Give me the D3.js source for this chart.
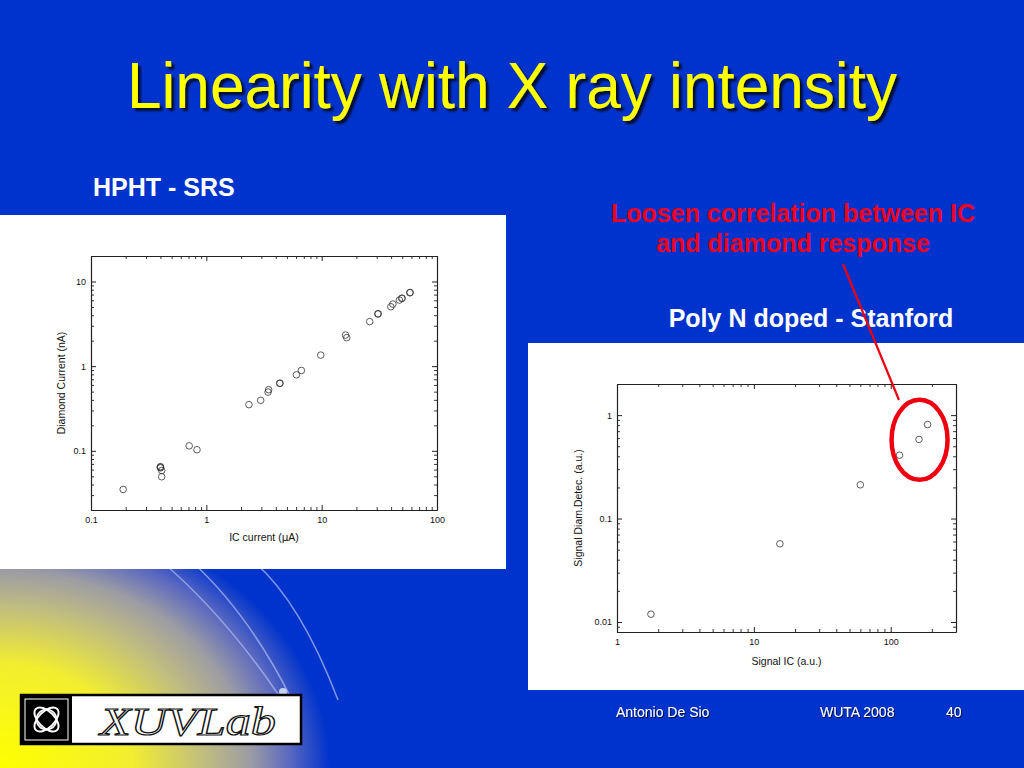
<!DOCTYPE html>
<html>
<head>
<meta charset="utf-8">
<script src="https://cdn.jsdelivr.net/npm/d3@7"></script>
<style>
  html, body { margin: 0; padding: 0; background: #0033cc; overflow: hidden; }
  svg { display: block; }
</style>
</head>
<body>
<script>
// ---------- data ----------
// HPHT - SRS : IC current (uA) vs Diamond current (nA)
const hphtIC = [0.19, 0.40, 0.40, 0.40, 0.41, 0.41, 0.71, 0.83, 2.34, 2.96, 3.43, 3.47, 4.33, 4.35, 6.04, 6.67, 9.82, 16.1, 16.5, 26.1, 30.7, 30.9, 39.8, 41.4, 47.2, 49.5, 49.8, 58.1, 58.5];
const hphtDiamond = [0.035, 0.065, 0.064, 0.063, 0.0586, 0.0494, 0.1145, 0.103, 0.351, 0.395, 0.494, 0.527, 0.625, 0.630, 0.79, 0.889, 1.35, 2.33, 2.17, 3.36, 4.13, 4.17, 5.03, 5.41, 6.03, 6.31, 6.36, 7.36, 7.42];
// Poly N doped - Stanford : Signal IC vs Signal Diam.Detec.
const polyIC = [1.77, 15.5, 60, 116, 161, 186];
const polyDiamond = [0.0119, 0.057, 0.212, 0.41, 0.582, 0.811];
// ticks
const hphtXTicks = [0.1, 1, 10, 100];
const hphtXTickLabels = ["0.1", "1", "10", "100"];
const hphtYTicks = [0.1, 1, 10];
const hphtYTickLabels = ["0.1", "1", "10"];
const polyXTicks = [1, 10, 100];
const polyXTickLabels = ["1", "10", "100"];
const polyYTicks = [0.01, 0.1, 1];
const polyYTickLabels = ["0.01", "0.1", "1"];
// texts
const titleText = "Linearity with X ray intensity";
const hphtLabel = "HPHT - SRS";
const polyLabel = "Poly N doped - Stanford";
const noteLines = ["Loosen correlation between IC", "and diamond response"];
const footer = ["Antonio De Sio", "WUTA 2008", "40"];

// ---------- drawing ----------
const W = 1024, H = 768;
const svg = d3.select("body").append("svg").attr("width", W).attr("height", H);
const defs = svg.append("defs");

const sh = defs.append("filter").attr("id", "shadow").attr("x", "-5%").attr("y", "-20%").attr("width", "115%").attr("height", "150%");
sh.append("feDropShadow").attr("dx", 3).attr("dy", 3).attr("stdDeviation", 1.2).attr("flood-color", "#000").attr("flood-opacity", 0.75);
const sh2 = defs.append("filter").attr("id", "shadow2").attr("x", "-5%").attr("y", "-20%").attr("width", "115%").attr("height", "150%");
sh2.append("feDropShadow").attr("dx", 1).attr("dy", 1).attr("stdDeviation", 0.6).attr("flood-color", "#000").attr("flood-opacity", 0.7);

const rg = defs.append("radialGradient").attr("id", "corner")
  .attr("gradientUnits", "userSpaceOnUse").attr("cx", 0).attr("cy", 0).attr("r", 1)
  .attr("gradientTransform", "translate(0,768) scale(330,260)");
rg.append("stop").attr("offset", 0).attr("stop-color", "#ffff00");
rg.append("stop").attr("offset", 0.4).attr("stop-color", "#f2ee30");
rg.append("stop").attr("offset", 0.62).attr("stop-color", "#c0bd80");
rg.append("stop").attr("offset", 0.76).attr("stop-color", "#9c9ca4");
rg.append("stop").attr("offset", 0.88).attr("stop-color", "#5a68c0");
rg.append("stop").attr("offset", 1).attr("stop-color", "#0033cc");

// background
svg.append("rect").attr("width", W).attr("height", H).attr("fill", "#0033cc");
svg.append("rect").attr("x", 0).attr("y", 560).attr("width", 420).attr("height", 208).attr("fill", "url(#corner)");

// decorative arcs
const arcs = [
  "M160,560 Q225,615 282,700",
  "M190,560 Q248,612 292,700",
  "M252,560 Q300,600 338,700"
];
svg.selectAll("path.arc").data(arcs).join("path").attr("class", "arc")
  .attr("d", d => d).attr("fill", "none").attr("stroke", "#a8b4ee").attr("stroke-width", 1.6).attr("opacity", 0.75);
svg.append("circle").attr("cx", 283).attr("cy", 692).attr("r", 4).attr("fill", "#c8d0f0");

// title
svg.append("text").attr("x", 512).attr("y", 108).attr("text-anchor", "middle")
  .attr("font-family", "Liberation Sans, Arial, sans-serif").attr("font-size", 65)
  .attr("textLength", 770).attr("lengthAdjust", "spacingAndGlyphs")
  .attr("fill", "#ffff00").attr("filter", "url(#shadow)").text(titleText);

// labels
svg.append("text").attr("x", 93).attr("y", 196)
  .attr("font-family", "Liberation Sans, Arial, sans-serif").attr("font-size", 25).attr("font-weight", "bold")
  .attr("fill", "#ffffff").text(hphtLabel);
svg.append("text").attr("x", 811).attr("y", 327).attr("text-anchor", "middle")
  .attr("font-family", "Liberation Sans, Arial, sans-serif").attr("font-size", 25).attr("font-weight", "bold")
  .attr("fill", "#ffffff").text(polyLabel);
svg.selectAll("text.note").data(noteLines).join("text").attr("class", "note")
  .attr("x", 793).attr("y", (d, i) => 222 + i * 30).attr("text-anchor", "middle")
  .attr("font-family", "Liberation Sans, Arial, sans-serif").attr("font-size", 25).attr("font-weight", "bold")
  .attr("fill", "#ee0020").text(d => d);

// white panels
svg.append("rect").attr("x", 0).attr("y", 215).attr("width", 506).attr("height", 354).attr("fill", "#ffffff");
svg.append("rect").attr("x", 528).attr("y", 343).attr("width", 496).attr("height", 347).attr("fill", "#ffffff");

function minorTicks(domain) {
  const out = [];
  const lo = Math.floor(Math.log10(domain[0]) - 1e-9), hi = Math.ceil(Math.log10(domain[1]) + 1e-9);
  for (let e = lo; e <= hi; e++) {
    for (let m = 2; m <= 9; m++) {
      const v = m * Math.pow(10, e);
      if (v >= domain[0] * 0.999 && v <= domain[1] * 1.001) out.push(v);
    }
  }
  return out;
}

function drawChart(cfg) {
  const g = svg.append("g");
  const x = d3.scaleLog().domain(cfg.xDomain).range([cfg.left, cfg.right]);
  const y = d3.scaleLog().domain(cfg.yDomain).range([cfg.bottom, cfg.top]);
  const font = "Liberation Sans, Arial, sans-serif";
  const fmtX = d => cfg.xLabels[cfg.xTicks.indexOf(d)];
  const fmtY = d => cfg.yLabels[cfg.yTicks.indexOf(d)];

  function styleAxis(sel) {
    sel.selectAll("path.domain").attr("stroke", "#222").attr("stroke-width", 1.2);
    sel.selectAll(".tick line").attr("stroke", "#222").attr("stroke-width", 1);
    sel.selectAll(".tick text").attr("font-family", font).attr("font-size", 9).attr("fill", "#111");
  }
  // major axes
  g.append("g").attr("transform", `translate(0,${cfg.bottom})`)
    .call(d3.axisBottom(x).tickValues(cfg.xTicks).tickFormat(fmtX).tickSizeInner(-5).tickSizeOuter(0).tickPadding(7))
    .call(styleAxis);
  g.append("g").attr("transform", `translate(0,${cfg.top})`)
    .call(d3.axisTop(x).tickValues(cfg.xTicks).tickFormat("").tickSizeInner(-5).tickSizeOuter(0))
    .call(styleAxis);
  g.append("g").attr("transform", `translate(${cfg.left},0)`)
    .call(d3.axisLeft(y).tickValues(cfg.yTicks).tickFormat(fmtY).tickSizeInner(-5).tickSizeOuter(0).tickPadding(5))
    .call(styleAxis);
  g.append("g").attr("transform", `translate(${cfg.right},0)`)
    .call(d3.axisRight(y).tickValues(cfg.yTicks).tickFormat("").tickSizeInner(-5).tickSizeOuter(0))
    .call(styleAxis);
  // minor ticks
  const mx = minorTicks(cfg.xDomain).filter(v => !cfg.xTicks.includes(v));
  const my = minorTicks(cfg.yDomain).filter(v => !cfg.yTicks.includes(v));
  const minorStyle = sel => { sel.select("path.domain").remove(); sel.selectAll(".tick line").attr("stroke", "#222").attr("stroke-width", 0.9); };
  g.append("g").attr("transform", `translate(0,${cfg.bottom})`)
    .call(d3.axisBottom(x).tickValues(mx).tickFormat("").tickSizeInner(-3).tickSizeOuter(0)).call(minorStyle);
  g.append("g").attr("transform", `translate(0,${cfg.top})`)
    .call(d3.axisTop(x).tickValues(mx).tickFormat("").tickSizeInner(-3).tickSizeOuter(0)).call(minorStyle);
  g.append("g").attr("transform", `translate(${cfg.left},0)`)
    .call(d3.axisLeft(y).tickValues(my).tickFormat("").tickSizeInner(-3).tickSizeOuter(0)).call(minorStyle);
  g.append("g").attr("transform", `translate(${cfg.right},0)`)
    .call(d3.axisRight(y).tickValues(my).tickFormat("").tickSizeInner(-3).tickSizeOuter(0)).call(minorStyle);

  // points
  const pts = cfg.xs.map((v, i) => [v, cfg.ys[i]]);
  g.append("g").selectAll("circle").data(pts).join("circle")
    .attr("cx", d => x(d[0])).attr("cy", d => y(d[1])).attr("r", 3.3)
    .attr("fill", "none").attr("stroke", "#333").attr("stroke-width", 0.8);

  // axis titles
  g.append("text").attr("x", (cfg.left + cfg.right) / 2).attr("y", cfg.bottom + cfg.xTitleDy)
    .attr("text-anchor", "middle").attr("font-family", font).attr("font-size", 10.5).attr("fill", "#111")
    .html(cfg.xTitle);
  g.append("text").attr("transform", `translate(${cfg.yTitleX},${(cfg.top + cfg.bottom) / 2}) rotate(-90)`)
    .attr("text-anchor", "middle").attr("font-family", font).attr("font-size", 10.5).attr("fill", "#111")
    .text(cfg.yTitle);
  return { x, y };
}

drawChart({
  left: 91, right: 437, top: 256, bottom: 510,
  xDomain: [0.1, 100], yDomain: [0.02, 20],
  xTicks: hphtXTicks, xLabels: hphtXTickLabels, yTicks: hphtYTicks, yLabels: hphtYTickLabels,
  xs: hphtIC, ys: hphtDiamond,
  xTitle: "IC current (<tspan font-family='DejaVu Sans'>&#956;</tspan>A)", xTitleDy: 31,
  yTitle: "Diamond Current (nA)", yTitleX: 65
});

const poly = drawChart({
  left: 617, right: 956, top: 384, bottom: 632,
  xDomain: [1, 300], yDomain: [0.008, 2],
  xTicks: polyXTicks, xLabels: polyXTickLabels, yTicks: polyYTicks, yLabels: polyYTickLabels,
  xs: polyIC, ys: polyDiamond,
  xTitle: "Signal IC (a.u.)", xTitleDy: 33,
  yTitle: "Signal Diam.Detec. (a.u.)", yTitleX: 582
});

// red highlight ellipse around the last three points and pointer line
const hx = polyIC.slice(3).map(poly.x), hy = polyDiamond.slice(3).map(poly.y);
const ecx = (d3.min(hx) + d3.max(hx)) / 2 + 6, ecy = (d3.min(hy) + d3.max(hy)) / 2;
svg.append("ellipse").attr("cx", ecx).attr("cy", ecy).attr("rx", 28).attr("ry", 40)
  .attr("fill", "none").attr("stroke", "#ee0010").attr("stroke-width", 4.5);
svg.append("line").attr("x1", 843).attr("y1", 264).attr("x2", 899).attr("y2", 400)
  .attr("stroke", "#ee0010").attr("stroke-width", 2.2);

// logo
const logo = svg.append("g");
logo.append("rect").attr("x", 21).attr("y", 695).attr("width", 280).attr("height", 49)
  .attr("fill", "#ffffff").attr("stroke", "#000").attr("stroke-width", 2.5);
logo.append("rect").attr("x", 21).attr("y", 695).attr("width", 51).attr("height", 49).attr("fill", "#000");
logo.append("rect").attr("x", 25).attr("y", 699).attr("width", 43).attr("height", 41)
  .attr("fill", "none").attr("stroke", "#fff").attr("stroke-width", 1);
const kc = [46.5, 719.5];
[0, 90].forEach(a => {
  logo.append("ellipse").attr("cx", kc[0]).attr("cy", kc[1]).attr("rx", 15).attr("ry", 8)
    .attr("transform", `rotate(${a + 45},${kc[0]},${kc[1]})`)
    .attr("fill", "none").attr("stroke", "#fff").attr("stroke-width", 2);
});
logo.append("circle").attr("cx", kc[0]).attr("cy", kc[1]).attr("r", 10)
  .attr("fill", "none").attr("stroke", "#fff").attr("stroke-width", 1.6);
logo.append("text").attr("x", 188).attr("y", 735).attr("text-anchor", "middle")
  .attr("font-family", "Liberation Serif, DejaVu Serif, serif").attr("font-style", "italic").attr("font-size", 40)
  .attr("textLength", 176).attr("lengthAdjust", "spacingAndGlyphs")
  .attr("fill", "#ffffff").attr("stroke", "#111").attr("stroke-width", 1.2)
  .text("XUVLab");

// footer
svg.selectAll("text.footer").data(footer).join("text").attr("class", "footer")
  .attr("x", (d, i) => [616, 820, 946][i]).attr("y", 717)
  .attr("font-family", "Liberation Sans, Arial, sans-serif").attr("font-size", 14)
  .attr("fill", "#ffffff").attr("filter", "url(#shadow2)").text(d => d);
</script>
</body>
</html>
